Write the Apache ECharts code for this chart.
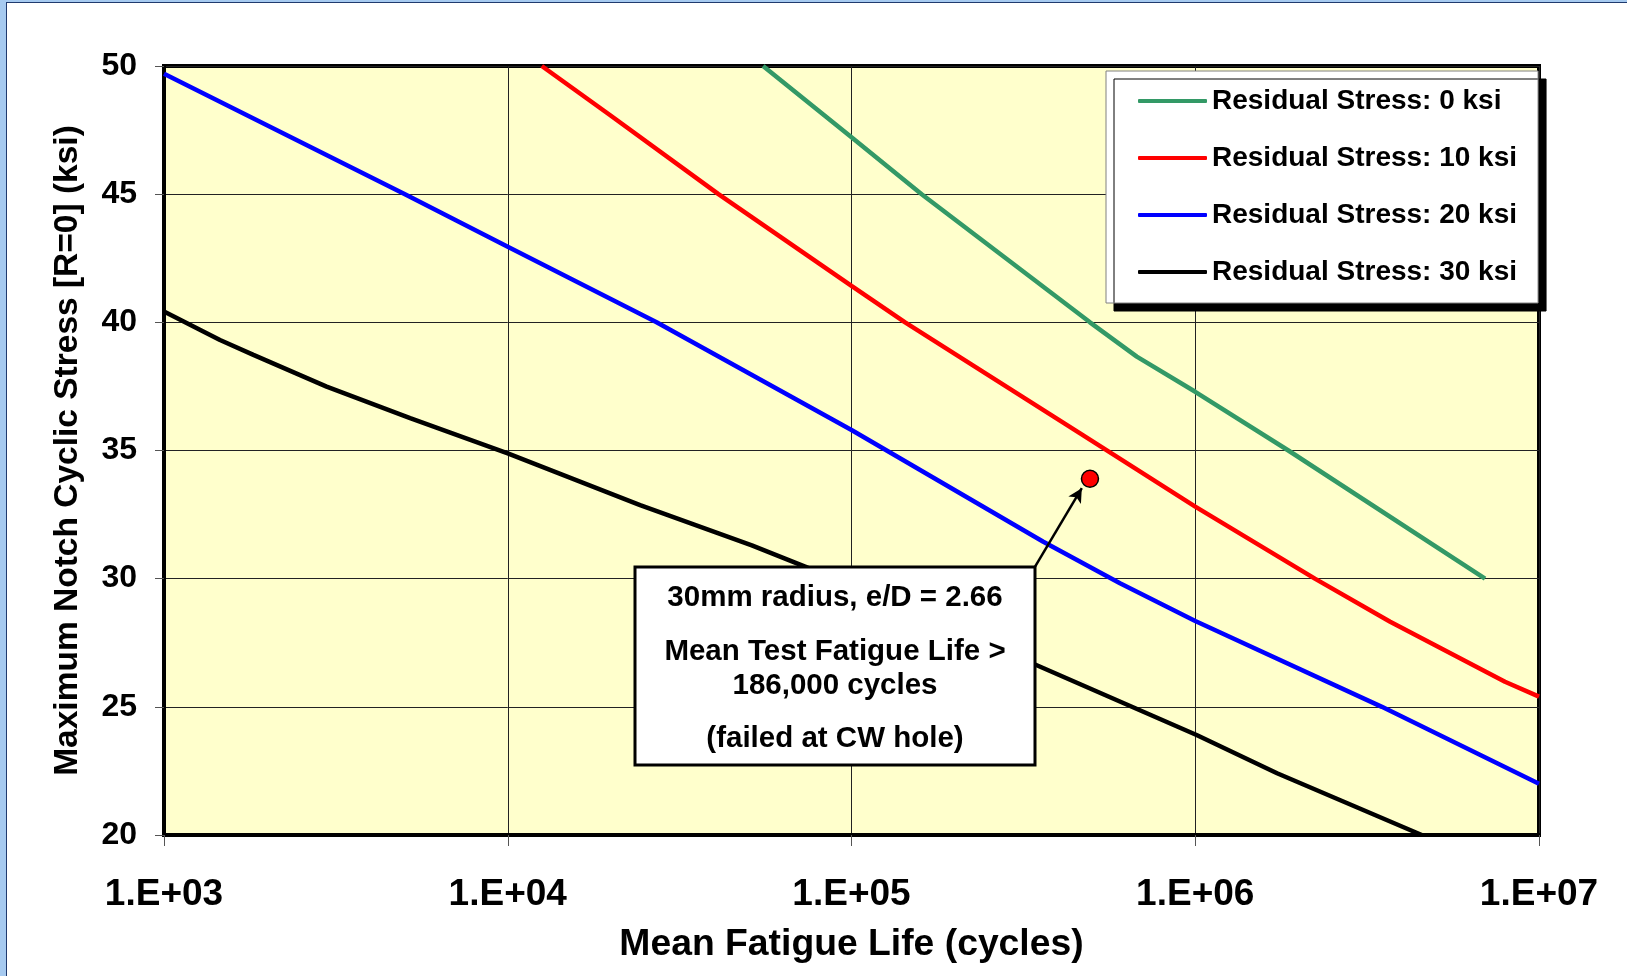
<!DOCTYPE html>
<html><head><meta charset="utf-8">
<script src="https://cdn.jsdelivr.net/npm/echarts@6/dist/echarts.min.js"></script>
<style>
html,body{margin:0;padding:0;background:#fff;}
#wrap{position:relative;width:1627px;height:976px;overflow:hidden;background:#A6CAF0;}
#panel{position:absolute;left:6px;top:2px;width:1700px;height:1100px;background:#fff;border-left:1px solid #1F3A6E;border-top:1px solid #1F3A6E;}
#c{position:absolute;left:0;top:0;width:1627px;height:976px;}
</style>
</head><body>
<div id="wrap"><div id="panel"></div><div id="c"></div></div>
<script>
// ---- data ----
const seriesNames = ['Residual Stress: 0 ksi','Residual Stress: 10 ksi','Residual Stress: 20 ksi','Residual Stress: 30 ksi'];
const seriesColors = ['#339966','#FF0000','#0000FF','#000000'];

const rs0_N  = [55300, 100000, 160000, 494000, 676000, 1000000, 1866000, 6966000];
const rs0_S  = [50.0, 47.22, 45.0, 40.0, 38.66, 37.29, 35.0, 30.0];

const rs10_N = [12560, 19820, 41020, 100000, 143200, 462400, 1000000, 2228000, 3690000, 7962000, 10000000];
const rs10_S = [50.0, 48.09, 45.0, 41.42, 40.0, 35.67, 32.81, 30.0, 28.32, 25.98, 25.4];

const rs20_N = [1000, 5023, 10000, 27100, 100000, 361400, 604000, 1000000, 3491000, 10000000];
const rs20_S = [49.7, 45.0, 42.95, 40.0, 35.8, 31.44, 29.82, 28.35, 25.0, 22.0];

const rs30_N = [1000, 1455, 1820, 2972, 5200, 10000, 24270, 51290, 73280, 342000, 1009000, 1730000, 4560000];
const rs30_S = [40.42, 39.31, 38.73, 37.49, 36.26, 34.89, 32.87, 31.3, 30.47, 26.65, 23.9, 22.41, 20.0];

const testN = [494000];
const testS = [33.9];

const arrowFrom = [342000, 30.47];
const arrowTo   = [467700, 33.53];

const xTickLabels = ['1.E+03','1.E+04','1.E+05','1.E+06','1.E+07'];
const annotLines = ['30mm radius, e/D = 2.66','Mean Test Fatigue Life >','186,000 cycles','(failed at CW hole)'];

const xTitle = 'Mean Fatigue Life (cycles)';
const yTitle = 'Maximum Notch Cyclic Stress [R=0] (ksi)';

// ---- build ----
const FONT = '"Liberation Sans", Arial, sans-serif';
const allN = [rs0_N, rs10_N, rs20_N, rs30_N];
const allS = [rs0_S, rs10_S, rs20_S, rs30_S];

const chart = echarts.init(document.getElementById('c'), null, {renderer:'canvas'});

const lineSeries = seriesNames.map((name, i) => ({
  name: name,
  type: 'line',
  symbol: 'none',
  smooth: false,
  data: allN[i].map((n, k) => [n, allS[i][k]]),
  lineStyle: {color: seriesColors[i], width: 4.5},
  itemStyle: {color: seriesColors[i]},
  z: 3
}));

const annotFont = 'bold 29.5px ' + FONT;
const annotText = (txt, y) => ({type:'text', z:101, x:835, y:y,
  style:{text:txt, font:annotFont, fill:'#000', align:'center', verticalAlign:'middle'}});
const annotGraphic = [
  {type:'rect', z:100, shape:{x:635, y:567, width:400, height:198},
   style:{fill:'#fff', stroke:'#000', lineWidth:3}},
  annotText(annotLines[0], 598),
  annotText(annotLines[1], 652),
  annotText(annotLines[2], 686),
  annotText(annotLines[3], 739)
];

chart.setOption({
  animation: false,
  backgroundColor: 'transparent',
  textStyle: {fontFamily: FONT},
  grid: {left:164, top:66, right:88, bottom:141, show:true,
         backgroundColor:'#FFFFCC', borderColor:'#000', borderWidth:4, containLabel:false},
  legend: {
    data: seriesNames,
    orient: 'vertical',
    left: 1106, top: 71,
    padding: [16, 21, 17, 32],
    itemGap: 29,
    icon: 'roundRect',
    itemWidth: 69, itemHeight: 4,
    backgroundColor: '#fff',
    borderColor: '#808080', borderWidth: 1,
    shadowColor: '#000', shadowBlur: 0, shadowOffsetX: 8, shadowOffsetY: 8,
    textStyle: {fontSize: 28, fontWeight: 'bold', color: '#000', fontFamily: FONT, lineHeight: 28},
    selectedMode: false,
    z: 50
  },
  xAxis: {
    type: 'log', logBase: 10, min: 1000, max: 10000000,
    name: xTitle, nameLocation: 'middle', nameGap: 91,
    nameTextStyle: {fontSize: 37.3, fontWeight: 'bold', color: '#000', fontFamily: FONT},
    axisLine: {show: true, lineStyle: {color: '#000', width: 4}},
    axisTick: {show: true, inside: false, length: 11, lineStyle: {color: '#555', width: 1}},
    minorTick: {show: false},
    axisLabel: {
      fontSize: 37, fontWeight: 'bold', color: '#000', fontFamily: FONT, margin: 41,
      formatter: v => xTickLabels[Math.round(Math.log10(v)) - 3]
    },
    splitLine: {show: true, lineStyle: {color: '#222', width: 1}}
  },
  yAxis: {
    type: 'value', min: 20, max: 50, interval: 5,
    name: yTitle, nameLocation: 'middle', nameGap: 79, nameRotate: 90,
    nameTextStyle: {fontSize: 33.5, fontWeight: 'bold', color: '#000', fontFamily: FONT},
    axisLine: {show: true, lineStyle: {color: '#000', width: 4}},
    axisTick: {show: true, inside: false, length: 9, lineStyle: {color: '#555', width: 1}},
    axisLabel: {fontSize: 32, fontWeight: 'bold', color: '#000', fontFamily: FONT, margin: 27},
    splitLine: {show: true, lineStyle: {color: '#222', width: 1}}
  },
  series: lineSeries.concat([{
    name: 'Test',
    type: 'scatter',
    symbol: 'circle',
    symbolSize: 17,
    data: testN.map((n, k) => [n, testS[k]]),
    itemStyle: {color: '#FF0000', borderColor: '#000', borderWidth: 1.5, opacity: 1},
    z: 10,
    markLine: {
      silent: true,
      symbol: ['none', 'arrow'],
      symbolSize: [11, 14],
      lineStyle: {color: '#000', width: 2.5, type: 'solid'},
      label: {show: false},
      emphasis: {disabled: true},
      data: [[{coord: arrowFrom}, {coord: arrowTo}]]
    }
  }]),
  graphic: annotGraphic
});
</script>
</body></html>
